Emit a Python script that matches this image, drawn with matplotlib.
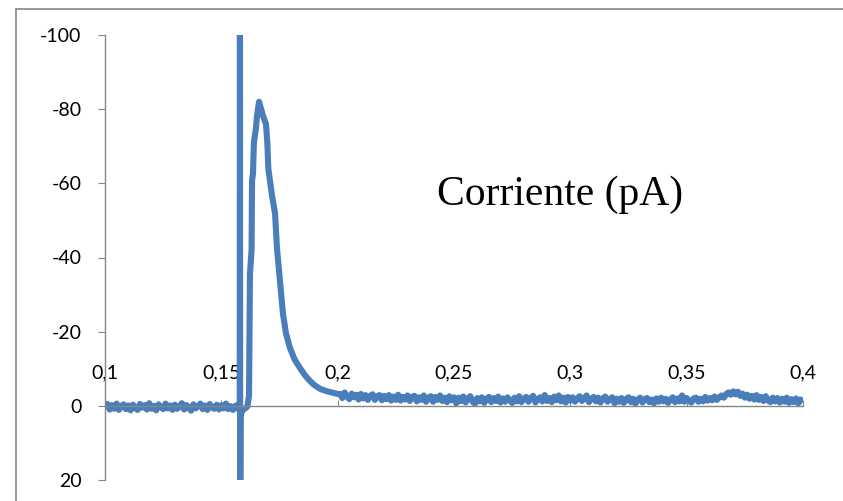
import numpy as np
import matplotlib.pyplot as plt
from matplotlib.lines import Line2D

# Current trace (pA)
# baseline before the stimulus, one sample every 1 ms
t_pre = np.round(np.arange(0.100, 0.15601, 0.001), 3)
i_pre = [0.6, -0.5, 1.0, -0.2, 0.8, -0.6, 1.1, 0.1, -0.4, 0.9,
         -0.1, 1.2, -0.3, 0.6, 1.1, -0.5, 0.5, -0.2, 1.0, -0.7,
         0.8, 0.0, 1.2, -0.4, 0.4, 0.9, -0.6, 0.7, -0.1, 1.1,
         -0.3, 0.8, 0.2, -0.7, 1.0, -0.2, 0.5, 1.3, -0.4, 0.7,
         0.1, -0.6, 0.9, -0.1, 1.1, -0.5, 0.5, 0.8, -0.3, 1.0,
         -0.2, 0.7, -0.6, 0.9, 0.1, 1.1, 0.0]

# stimulus artefact and response peak
t_peak = [0.1570, 0.1575, 0.1579, 0.1580, 0.1581, 0.1583, 0.1590, 0.1600, 0.1612, 0.1619,
          0.1623, 0.1630, 0.1632, 0.1636, 0.1640, 0.1649, 0.1653, 0.1662, 0.1680, 0.1692,
          0.1698, 0.1702, 0.1717, 0.1731, 0.1739, 0.1752, 0.1765, 0.1778, 0.1795, 0.1815,
          0.1838, 0.1860, 0.1881, 0.1900, 0.1924, 0.1950, 0.1975, 0.2000]
i_peak = [0.5, -0.5, 1.5, -140, 35, 2.5, 1.2, 0.8, 0.2, -2.7,
          -35.6, -42, -60.7, -62.6, -71, -75, -78, -82, -78, -76,
          -70.6, -64, -57, -51.8, -42.6, -33.7, -24.8, -19.5, -15.6, -12.5,
          -10.2, -8.2, -6.7, -5.6, -4.6, -4.0, -3.6, -3.2]

# baseline after the response, one sample every 1 ms
t_post = np.round(np.arange(0.201, 0.40001, 0.001), 3)
i_post = [-3.2, -2.1, -3.6, -2.5, -1.8, -3.3, -2.3, -3.0, -1.7, -3.2,
          -2.0, -2.9, -1.6, -2.7, -3.1, -1.6, -2.6, -2.9, -1.5, -2.7,
          -1.8, -2.9, -1.4, -2.5, -1.6, -3.0, -1.4, -2.4, -1.7, -2.8,
          -1.3, -2.4, -2.7, -1.2, -2.3, -1.6, -2.8, -1.1, -2.2, -2.6,
          -1.1, -2.4, -1.6, -2.8, -1.3, -2.2, -1.0, -2.6, -1.5, -2.3,
          -0.7, -2.2, -1.3, -2.5, -0.9, -2.0, -2.6, -1.1, -0.6, -2.1,
          -1.2, -2.3, -0.8, -1.9, -2.4, -1.0, -2.1, -1.3, -2.5, -0.9,
          -2.0, -1.1, -2.3, -1.4, -0.8, -2.2, -1.2, -2.6, -1.0, -1.9,
          -2.4, -1.1, -2.1, -2.7, -0.9, -1.8, -2.3, -1.2, -2.9, -1.3,
          -2.1, -1.0, -2.5, -1.5, -2.8, -1.2, -2.2, -0.9, -2.4, -1.4,
          -2.3, -1.1, -2.0, -2.6, -1.3, -2.1, -2.8, -1.0, -1.9, -2.4,
          -1.2, -2.2, -0.9, -2.0, -2.5, -1.1, -1.8, -2.3, -0.7, -1.9,
          -1.1, -2.1, -0.8, -1.8, -2.3, -1.0, -1.9, -0.6, -1.7, -2.2,
          -0.9, -1.8, -2.1, -1.0, -1.7, -0.7, -2.0, -1.1, -2.2, -1.2,
          -1.9, -0.8, -1.7, -2.3, -1.0, -2.0, -1.2, -2.8, -1.1, -2.1,
          -1.3, -0.9, -2.0, -2.2, -1.1, -1.9, -1.2, -2.4, -1.4, -2.1,
          -1.5, -2.5, -1.6, -2.3, -2.8, -2.2, -3.2, -3.6, -3.0, -3.9,
          -3.1, -3.8, -2.7, -3.3, -2.2, -3.0, -1.9, -2.7, -1.7, -2.9,
          -1.6, -2.4, -1.3, -2.6, -1.4, -1.0, -2.2, -1.2, -2.1, -0.9,
          -1.9, -1.1, -2.2, -0.8, -1.8, -1.0, -2.0, -0.7, -1.7, -1.1]

t = np.concatenate([t_pre, t_peak, t_post])
i = np.concatenate([i_pre, i_peak, i_post])

x_ticks = [0.1, 0.15, 0.2, 0.25, 0.3, 0.35, 0.4]
x_labels = ['0,1', '0,15', '0,2', '0,25', '0,3', '0,35', '0,4']
y_ticks = [-100, -80, -60, -40, -20, 0, 20]

grey = '#868686'
plt.rcParams['font.family'] = ['Lato', 'DejaVu Sans']
plt.rcParams['axes.unicode_minus'] = False

fig = plt.figure(figsize=(8.43, 5.01), dpi=100)
ax = fig.add_axes([105 / 843, 21 / 501, 698 / 843, 445 / 501])

ax.plot(t, i, color='#4a7ebb', lw=4.4, solid_joinstyle='round', solid_capstyle='butt')

ax.set_xlim(0.1, 0.4)
ax.set_ylim(20, -100)

for s in ['top', 'right']:
    ax.spines[s].set_visible(False)
ax.spines['bottom'].set_position(('data', 0))
ax.spines['bottom'].set_color(grey)
ax.spines['left'].set_color(grey)
ax.spines['bottom'].set_linewidth(1.0)
ax.spines['left'].set_linewidth(1.0)

ax.set_xticks(x_ticks)
ax.set_xticklabels(x_labels)
ax.set_yticks(y_ticks)
ax.tick_params(axis='x', direction='in', length=4, color=grey, pad=-30, labelsize=14)
ax.tick_params(axis='y', direction='out', length=5, color=grey, pad=12, labelsize=14)

fig.text(560 / 843, 1 - 205 / 501, 'Corriente (pA)', family='Liberation Serif',
         fontsize=30, ha='center', va='baseline')

# chart area border
fig.add_artist(Line2D([16 / 843, 16 / 843], [0, 1 - 9 / 501], color=grey, lw=1.2))
fig.add_artist(Line2D([16 / 843, 1], [1 - 9 / 501, 1 - 9 / 501], color=grey, lw=1.2))

fig.savefig('out.png', dpi=100)
